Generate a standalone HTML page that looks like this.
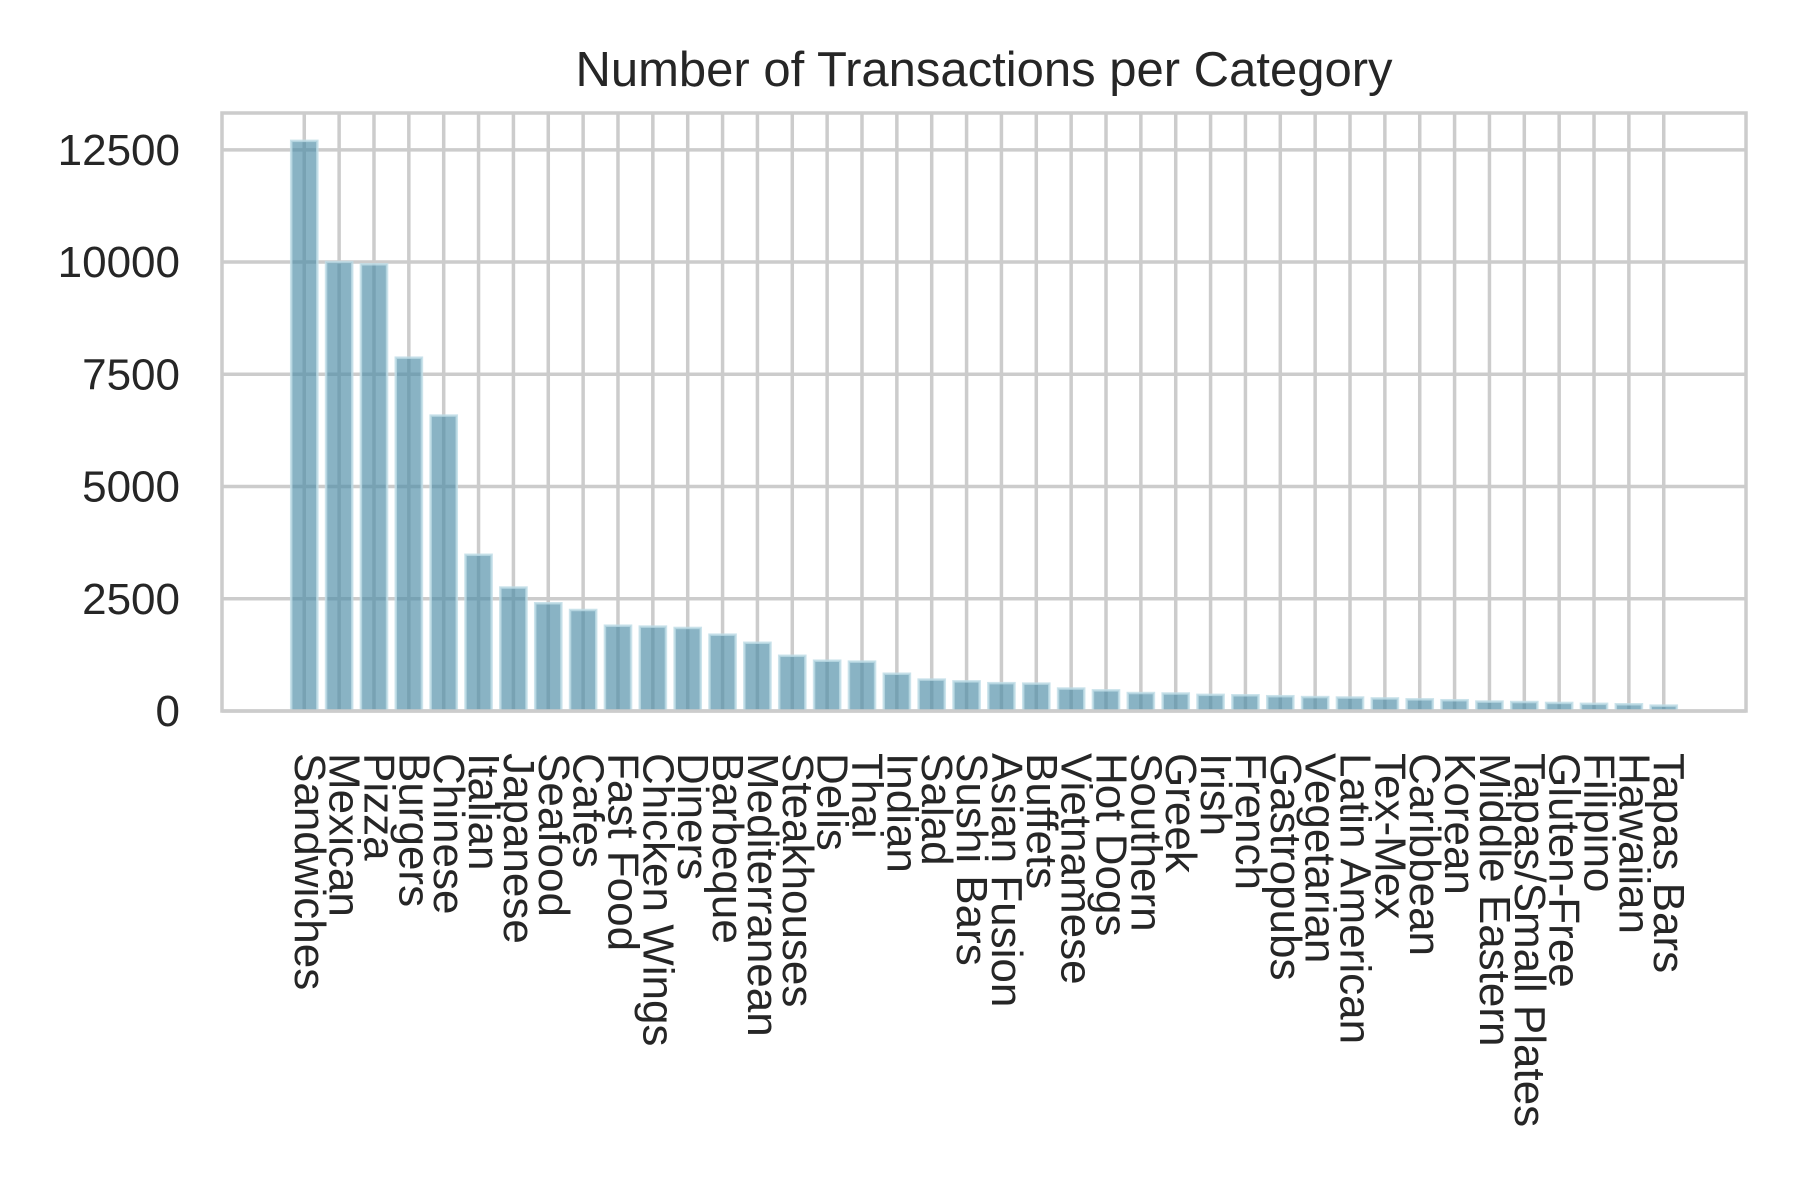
<!DOCTYPE html>
<html><head><meta charset="utf-8"><style>
html,body{margin:0;padding:0;background:#fff}
svg{display:block;font-family:"Liberation Sans",Arial,sans-serif}
</style></head><body>
<svg id="chart" width="1800" height="1200" viewBox="0 0 1800 1200" xmlns="http://www.w3.org/2000/svg">
<rect x="0" y="0" width="1800" height="1200" fill="#fff"/>
<text x="984" y="86" text-anchor="middle" font-size="49" fill="#262626">Number of Transactions per Category</text>
<g id="grid"></g>
<g id="bars"></g>
<rect x="222" y="113" width="1524" height="598" fill="none" stroke="#cccccc" stroke-width="3.5"/>
<g id="yticks"></g>
<g id="xticks"></g>
</svg>
<script>
const categories = ["Sandwiches","Mexican","Pizza","Burgers","Chinese","Italian","Japanese","Seafood","Cafes","Fast Food","Chicken Wings","Diners","Barbeque","Mediterranean","Steakhouses","Delis","Thai","Indian","Salad","Sushi Bars","Asian Fusion","Buffets","Vietnamese","Hot Dogs","Southern","Greek","Irish","French","Gastropubs","Vegetarian","Latin American","Tex-Mex","Caribbean","Korean","Middle Eastern","Tapas/Small Plates","Gluten-Free","Filipino","Hawaiian","Tapas Bars"];
const values = [12700,10000,9950,7870,6580,3480,2750,2400,2250,1900,1880,1850,1700,1520,1230,1120,1100,830,700,660,620,610,500,460,400,390,360,350,330,310,300,280,260,240,210,200,180,160,150,120];
const yTicks = [0,2500,5000,7500,10000,12500];
const yTickLabels = ["0","2500","5000","7500","10000","12500"];

const NS="http://www.w3.org/2000/svg";
const L=222,R=1746,T=113,B=711;
const xMin=-2.36,xMax=categories.length-1+2.36,yMax=13320;
function xs(i){return L+(i-xMin)/(xMax-xMin)*(R-L);}
function ys(v){return B-v/yMax*(B-T);}
function mk(tag,attrs,parent){const e=document.createElementNS(NS,tag);for(const k in attrs)e.setAttribute(k,attrs[k]);parent.appendChild(e);return e;}
const grid=document.getElementById('grid'),bars=document.getElementById('bars'),yt=document.getElementById('yticks'),xt=document.getElementById('xticks');
const step=xs(1)-xs(0),bw=step*0.75;
yTicks.forEach((v,i)=>{
  const l=mk('line',{x1:L,x2:R,y1:ys(v),y2:ys(v),stroke:'#cccccc','stroke-width':3.5},grid);
  
  
  const t=mk('text',{x:180,y:ys(v)+15,'text-anchor':'end','font-size':44,fill:'#262626'},yt);
  t.textContent=yTickLabels[i];
  
  
});
categories.forEach((c,i)=>{
  const cx=xs(i);
  const g=mk('line',{x1:cx,x2:cx,y1:T,y2:B,stroke:'#cccccc','stroke-width':3.5},grid);
  
  
  const r=mk('rect',{x:cx-bw/2,y:ys(values[i]),width:bw,height:B-ys(values[i]),fill:'rgb(76,140,165)','fill-opacity':0.66,stroke:'rgb(190,220,230)','stroke-width':2.5,'stroke-opacity':0.8},bars);
  
  
  const t=mk('text',{transform:`translate(${cx},753) rotate(90)`,x:0,y:9.5,'font-size':44,fill:'#262626'},xt);
  t.textContent=c;
  
  
});
</script>
</body></html>
